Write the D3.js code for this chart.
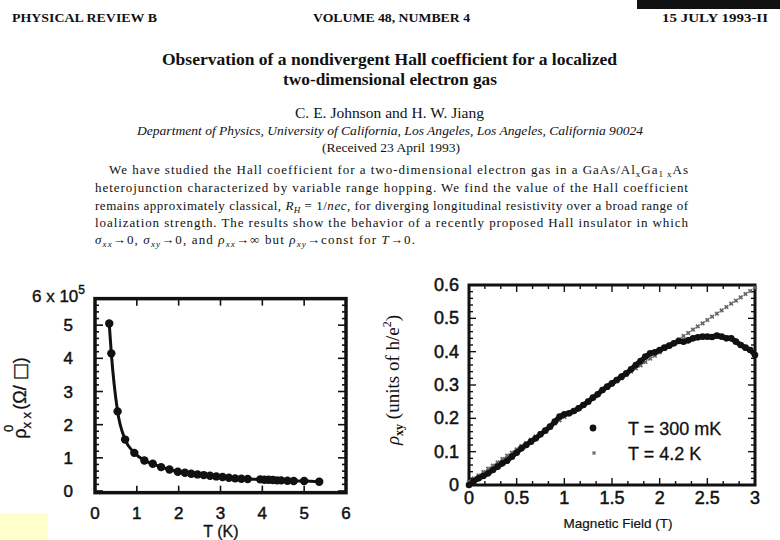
<!DOCTYPE html>
<html><head><meta charset="utf-8">
<script src="https://cdn.jsdelivr.net/npm/d3@7"></script>
<style>
body{margin:0;background:#fff;}
svg{display:block;}
</style></head>
<body>
<svg id="c" width="780" height="540"></svg>
<script>
// ---------- data ----------
// Left panel: rho_xx^0 (units of 1e5 ohm/sq) vs T (K)
const tempK = [0.34,0.39,0.54,0.72,0.94,1.18,1.38,1.58,1.78,1.98,2.15,2.3,2.45,2.6,2.75,2.9,3.05,3.2,3.35,3.5,3.65,3.95,4.05,4.15,4.25,4.35,4.45,4.6,4.75,5.0,5.36];
const rhoXX = [5.05,4.15,2.4,1.55,1.15,0.92,0.82,0.72,0.65,0.58,0.55,0.52,0.50,0.48,0.46,0.44,0.42,0.40,0.38,0.37,0.36,0.35,0.34,0.34,0.33,0.32,0.32,0.31,0.30,0.30,0.28];
const leftXTicks = [0,1,2,3,4,5,6];
const leftYTicks = [0,1,2,3,4,5];

// Right panel: rho_xy (h/e^2) vs B (T)
const fieldT = [0,0.05,0.1,0.15,0.2,0.25,0.3,0.35,0.4,0.45,0.5,0.55,0.6,0.65,0.7,0.75,0.8,0.85,0.9,0.95,1.0,1.05,1.1,1.15,1.2,1.25,1.3,1.35,1.4,1.45,1.5,1.55,1.6,1.65,1.7,1.75,1.8,1.85,1.9,1.95,2.0,2.05,2.1,2.15,2.2,2.25,2.3,2.35,2.4,2.45,2.5,2.55,2.6,2.65,2.7,2.75,2.8,2.85,2.9,2.95,3.0];
const rhoXY300mK = [0.000,0.012,0.020,0.027,0.035,0.045,0.055,0.065,0.073,0.085,0.097,0.110,0.120,0.130,0.140,0.152,0.163,0.175,0.190,0.205,0.212,0.215,0.222,0.230,0.240,0.250,0.262,0.272,0.285,0.295,0.305,0.315,0.325,0.335,0.347,0.360,0.372,0.385,0.395,0.398,0.405,0.412,0.418,0.425,0.432,0.430,0.434,0.440,0.443,0.445,0.445,0.444,0.448,0.445,0.440,0.440,0.430,0.420,0.412,0.405,0.390];
const rhoXY4K = [0.010,0.020,0.029,0.039,0.049,0.058,0.068,0.078,0.088,0.097,0.107,0.117,0.126,0.136,0.146,0.156,0.165,0.175,0.185,0.194,0.204,0.214,0.223,0.233,0.243,0.253,0.262,0.272,0.282,0.291,0.301,0.311,0.320,0.330,0.340,0.350,0.359,0.369,0.379,0.388,0.398,0.408,0.417,0.427,0.437,0.447,0.456,0.466,0.476,0.485,0.495,0.505,0.514,0.524,0.534,0.544,0.553,0.563,0.573,0.582,0.592];
const rightXTicks = [0,0.5,1,1.5,2,2.5,3];
const rightXTickLabels = ["0","0.5","1","1.5","2","2.5","3"];
const rightYTicks = [0,0.1,0.2,0.3,0.4,0.5,0.6];
const rightYTickLabels = ["0","0.1","0.2","0.3","0.4","0.5","0.6"];
const legendLabels = ["T = 300 mK","T = 4.2 K"];

// ---------- drawing ----------
const svg = d3.select("#c");
svg.append("rect").attr("width",780).attr("height",540).attr("fill","#fff");

const SERIF = "'Liberation Serif','Times New Roman',serif";
const SANS = "'Liberation Sans',Arial,Helvetica,sans-serif";

// page decorations
svg.append("rect").attr("x",637).attr("y",0).attr("width",143).attr("height",9).attr("fill","#111");
svg.append("rect").attr("x",0).attr("y",513).attr("width",48).attr("height",27).attr("fill","#ffffcc");

function txt(x,y,s,opt){
  const t = svg.append("text").attr("x",x).attr("y",y).text(s)
    .attr("font-family",opt.family||SERIF).attr("font-size",opt.size||13)
    .attr("fill","#111");
  if(opt.weight) t.attr("font-weight",opt.weight);
  if(opt.style) t.attr("font-style",opt.style);
  if(opt.anchor) t.attr("text-anchor",opt.anchor);
  if(opt.len) t.attr("textLength",opt.len).attr("lengthAdjust","spacingAndGlyphs");
  if(opt.heavy) t.attr("stroke","#111").attr("stroke-width",opt.heavy);
  return t;
}
txt(12,22,"PHYSICAL REVIEW B",{size:12,weight:"bold",len:145});
txt(313,22,"VOLUME 48, NUMBER 4",{size:12,weight:"bold",len:157});
txt(662,22,"15 JULY 1993-II",{size:12,weight:"bold",len:106});
txt(162,65,"Observation of a nondivergent Hall coefficient for a localized",{size:16,weight:"bold",len:455});
txt(283,85,"two-dimensional electron gas",{size:16,weight:"bold",len:214});
txt(295,118,"C. E. Johnson and H. W. Jiang",{size:14,len:189});
txt(137,135,"Department of Physics, University of California, Los Angeles, Los Angeles, California 90024",{size:13,style:"italic",len:506});
txt(322,152,"(Received 23 April 1993)",{size:13,len:138});

// abstract (justified)
function absLine(x,y,len,parts){
  const t = svg.append("text").attr("x",x).attr("y",y)
    .attr("font-family",SERIF).attr("font-size",13).attr("fill","#111");
  if(len) t.attr("textLength",len).attr("lengthAdjust","spacing");
  parts.forEach(p=>{
    const s = t.append("tspan").text(p.t);
    if(p.sub){ s.attr("font-size",9).attr("dy",3); }
    if(p.back){ s.attr("dy",-3); }
    if(p.it){ s.attr("font-style","italic"); }
  });
  return t;
}
const L = 95, R = 688;
absLine(109,174,R-109,[{t:"We have studied the Hall coefficient for a two-dimensional electron gas in a GaAs/Al"},{t:"x",sub:1},{t:"Ga",back:1},{t:"1  x",sub:1},{t:"As",back:1}]);
absLine(L,192,R-L,[{t:"heterojunction characterized by variable range hopping.  We find the value of the Hall coefficient"}]);
absLine(L,210,R-L,[{t:"remains approximately classical, "},{t:"R",it:1},{t:"H",sub:1,it:1},{t:" = 1/",back:1},{t:"nec",it:1},{t:", for diverging longitudinal resistivity over a broad range of"}]);
absLine(L,227,R-L,[{t:"loalization strength.  The results show the behavior of a recently proposed Hall insulator in which"}]);
absLine(L,244,320,[{t:"σ",it:1},{t:"xx",sub:1,it:1},{t:"→0, ",back:1},{t:"σ",it:1},{t:"xy",sub:1,it:1},{t:"→0, and ",back:1},{t:"ρ",it:1},{t:"xx",sub:1,it:1},{t:"→∞ but ",back:1},{t:"ρ",it:1},{t:"xy",sub:1,it:1},{t:"→const for ",back:1},{t:"T",it:1},{t:"→0."}]);

// ---------- left chart ----------
const xL = d3.scaleLinear().domain([0,6]).range([95,346]);
const yL = d3.scaleLinear().domain([0,6]).range([491,292]);
const gL = svg.append("g");
const fx0 = xL(0), fx1 = xL(6), fy0 = yL(-0.05), fy1 = yL(5.8);
// ticks
const lt = gL.append("g").attr("stroke","#111").attr("stroke-width",1.6);
d3.range(0,5.81,0.2).forEach(v=>{
  const major = Math.abs(v-Math.round(v))<1e-6;
  const len = major?8:4;
  lt.append("line").attr("x1",fx0).attr("x2",fx0+len).attr("y1",yL(v)).attr("y2",yL(v));
  lt.append("line").attr("x1",fx1).attr("x2",fx1-len).attr("y1",yL(v)).attr("y2",yL(v));
});
leftXTicks.forEach(v=>{
  lt.append("line").attr("x1",xL(v)).attr("x2",xL(v)).attr("y1",fy0).attr("y2",fy0-7);
  lt.append("line").attr("x1",xL(v)).attr("x2",xL(v)).attr("y1",fy1).attr("y2",fy1+7);
});
gL.append("rect").attr("x",fx0).attr("y",fy1).attr("width",fx1-fx0).attr("height",fy0-fy1)
  .attr("fill","none").attr("stroke","#111").attr("stroke-width",3.5);
// curve and points
const lineL = d3.line().x((d,i)=>xL(tempK[i])).y(d=>yL(d)).curve(d3.curveMonotoneX);
gL.append("path").attr("d",lineL(rhoXX)).attr("fill","none").attr("stroke","#111").attr("stroke-width",3);
gL.selectAll("circle").data(rhoXX).join("circle")
  .attr("cx",(d,i)=>xL(tempK[i])).attr("cy",d=>yL(d)).attr("r",4.2).attr("fill","#111");
// tick labels
leftYTicks.forEach(v=>{
  txt(73,yL(v)+6,String(v),{family:SANS,size:17,anchor:"end",heavy:0.5});
});
const t6 = svg.append("text").attr("x",32).attr("y",302).attr("font-family",SANS).attr("font-size",17)
  .attr("fill","#111").attr("stroke","#111").attr("stroke-width",0.4);
t6.append("tspan").text("6 x 10");
t6.append("tspan").text("5").attr("font-size",12).attr("dy",-8);
leftXTicks.forEach(v=>{
  txt(xL(v),519,String(v),{family:SANS,size:17,anchor:"middle",heavy:0.5});
});
txt(221,537,"T (K)",{family:SANS,size:16,anchor:"middle",heavy:0.3});
// y label (rotated)
const yl = svg.append("text").attr("transform","translate(26,398) rotate(-90)")
  .attr("text-anchor","middle").attr("font-family",SANS).attr("font-size",18).attr("fill","#111")
  .attr("stroke","#111").attr("stroke-width",0.3);
yl.append("tspan").text("ρ");
yl.append("tspan").text("x x").attr("font-size",13).attr("dy",5);
yl.append("tspan").text("0").attr("font-size",13).attr("dx",-20).attr("dy",-18);
yl.append("tspan").text("  (Ω/ ").attr("dx",10).attr("dy",13);
yl.append("tspan").text("□").attr("font-weight","bold").attr("font-family","'DejaVu Sans',sans-serif");
yl.append("tspan").text(")");

// ---------- right chart ----------
const xR = d3.scaleLinear().domain([0,3]).range([469,755]);
const yR = d3.scaleLinear().domain([0,0.6]).range([485,285]);
const gR = svg.append("g");
const rt = gR.append("g").attr("stroke","#111").attr("stroke-width",1.4);
d3.range(0,0.601,0.02).forEach(v=>{
  const major = Math.abs(v*10-Math.round(v*10))<1e-6;
  const len = major?7:4;
  rt.append("line").attr("x1",xR(0)).attr("x2",xR(0)+len).attr("y1",yR(v)).attr("y2",yR(v));
  rt.append("line").attr("x1",xR(3)).attr("x2",xR(3)-len).attr("y1",yR(v)).attr("y2",yR(v));
});
d3.range(0,3.001,0.5/3).forEach((v,i)=>{
  const major = i%3===0;
  const len = major?7:4;
  rt.append("line").attr("x1",xR(v)).attr("x2",xR(v)).attr("y1",yR(0.6)).attr("y2",yR(0.6)+len);
  rt.append("line").attr("x1",xR(v)).attr("x2",xR(v)).attr("y1",yR(0)).attr("y2",yR(0)-len);
});
gR.append("rect").attr("x",xR(0)).attr("y",yR(0.6)).attr("width",xR(3)-xR(0)).attr("height",yR(0)-yR(0.6))
  .attr("fill","none").attr("stroke","#111").attr("stroke-width",3);
// 4.2 K crosses
const cross = d3.symbol().type(d3.symbolCross).size(14);
gR.append("path").attr("d",d3.line().x((d,i)=>xR(fieldT[i])).y(d=>yR(d))(rhoXY4K))
  .attr("fill","none").attr("stroke","#999").attr("stroke-width",1.2).attr("stroke-dasharray","2,1.5");
gR.append("g").selectAll("path").data(rhoXY4K).join("path")
  .attr("transform",(d,i)=>`translate(${xR(fieldT[i])},${yR(d)}) rotate(45)`)
  .attr("d",cross).attr("fill","#666");
// 300 mK dots
gR.append("path").attr("d",d3.line().x((d,i)=>xR(fieldT[i])).y(d=>yR(d))(rhoXY300mK))
  .attr("fill","none").attr("stroke","#111").attr("stroke-width",5);
gR.append("g").selectAll("circle").data(rhoXY300mK).join("circle")
  .attr("cx",(d,i)=>xR(fieldT[i])).attr("cy",d=>yR(d)).attr("r",3.3).attr("fill","#111");
// tick labels
rightYTicks.forEach((v,i)=>{
  txt(459,yR(v)+6,rightYTickLabels[i],{family:SANS,size:18,anchor:"end",heavy:0.5});
});
rightXTicks.forEach((v,i)=>{
  txt(xR(v),504,rightXTickLabels[i],{family:SANS,size:18,anchor:"middle",heavy:0.5});
});
txt(618,528,"Magnetic Field (T)",{family:SANS,size:13.5,anchor:"middle",heavy:0.2});
// y label
const yr = svg.append("text").attr("transform","translate(399,380) rotate(-90)")
  .attr("text-anchor","middle").attr("font-family",SERIF).attr("font-size",19).attr("fill","#111");
yr.append("tspan").text("ρ").attr("font-style","italic");
yr.append("tspan").text("xy").attr("font-size",12).attr("dy",4).attr("font-weight","bold");
yr.append("tspan").text("  (units of h/e").attr("dy",-4);
yr.append("tspan").text("2").attr("font-size",12).attr("dy",-8);
yr.append("tspan").text(")").attr("dy",8);
// legend
svg.append("circle").attr("cx",593).attr("cy",428).attr("r",3.4).attr("fill","#111");
svg.append("path").attr("transform","translate(594,453) rotate(45)").attr("d",d3.symbol().type(d3.symbolCross).size(10)).attr("fill","#666");
txt(628,435,legendLabels[0],{family:SANS,size:18,heavy:0.3});
txt(628,460,legendLabels[1],{family:SANS,size:18,heavy:0.3});
</script>
</body></html>
